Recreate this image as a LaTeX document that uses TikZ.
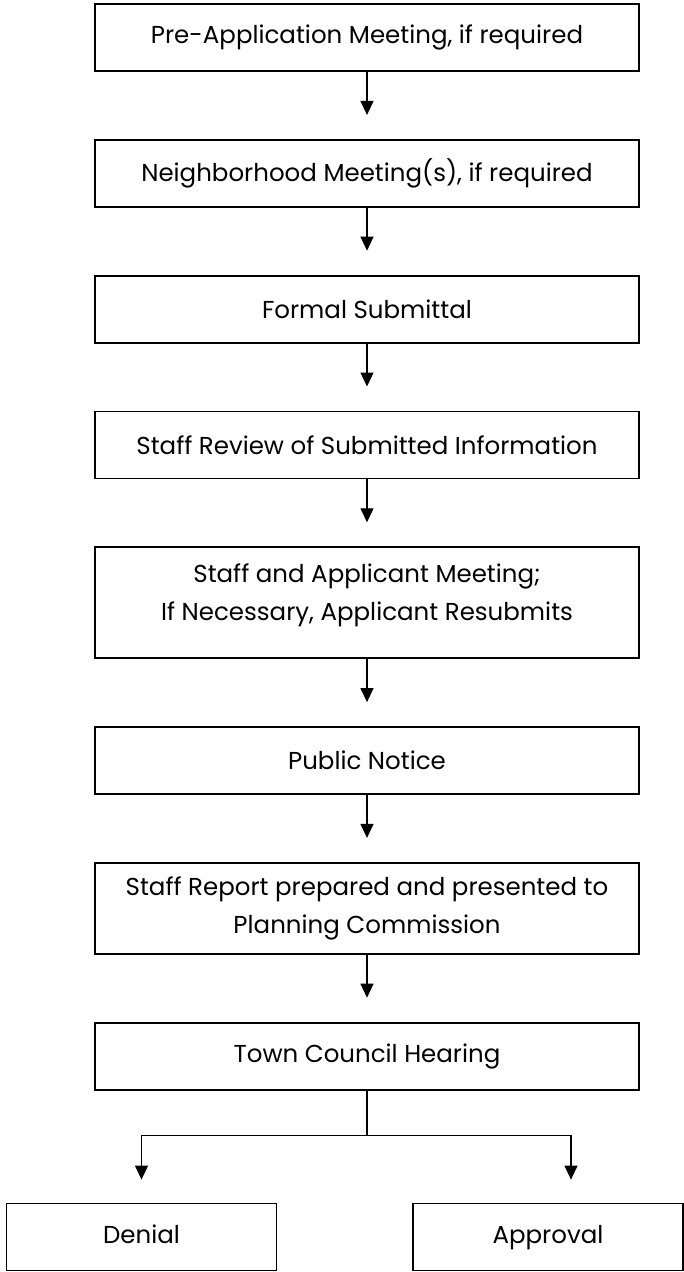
\documentclass[tikz,border=0pt]{standalone}
\usepackage{fontspec}
\setmainfont{Poppins}
\usetikzlibrary{positioning,arrows.meta}

\begin{document}
\begin{tikzpicture}
    [stepbox/.style={rectangle, draw, line width=1.8pt, minimum width=544pt, minimum height=67pt, align=center, font=\fontsize{24.5pt}{38pt}\selectfont},
     endbox/.style={stepbox, minimum width=270pt, text height=18pt, text depth=6pt},
     >={Triangle[length=14pt,width=13pt]}, node distance=67pt]
    \useasboundingbox (0,0) rectangle (684pt,-1272pt);
    \node[stepbox] (pre) at (367pt,-37.5pt) {Pre-Application Meeting, if required};
    \node[stepbox, below=of pre] (neigh) {Neighborhood Meeting(s), if required};
    \node[stepbox, below=of neigh] (formal) {Formal Submittal};
    \node[stepbox, below=of formal] (review) {Staff Review of Submitted Information};
    \node[stepbox, below=of review, minimum height=111pt, text depth=21pt] (meet) {Staff and Applicant Meeting;\\ If Necessary, Applicant Resubmits};
    \node[stepbox, below=of meet] (notice) {Public Notice};
    \node[stepbox, below=of notice, minimum height=91pt] (report) {Staff Report prepared and presented to\\ Planning Commission};
    \node[stepbox, below=of report] (council) {Town Council Hearing};
    \node[endbox] (denial) at (141.5pt,-1237pt) {Denial};
    \node[endbox] (approval) at (548pt,-1237pt) {Approval};
    \coordinate (split) at ([yshift=-45pt]council.south);
    \draw[->, very thick, shorten >=24pt] (pre) -- (neigh);
    \draw[->, very thick, shorten >=24pt] (neigh) -- (formal);
    \draw[->, very thick, shorten >=24pt] (formal) -- (review);
    \draw[->, very thick, shorten >=24pt] (review) -- (meet);
    \draw[->, very thick, shorten >=24pt] (meet) -- (notice);
    \draw[->, very thick, shorten >=24pt] (notice) -- (report);
    \draw[->, very thick, shorten >=24pt] (report) -- (council);
    \draw[very thick] (council.south) -- (split);
    \draw[->, very thick, shorten >=23pt] (split) -| (denial.north);
    \draw[->, very thick, shorten >=23pt] (split) -| ([xshift=23pt]approval.north);
\end{tikzpicture}
\end{document}
